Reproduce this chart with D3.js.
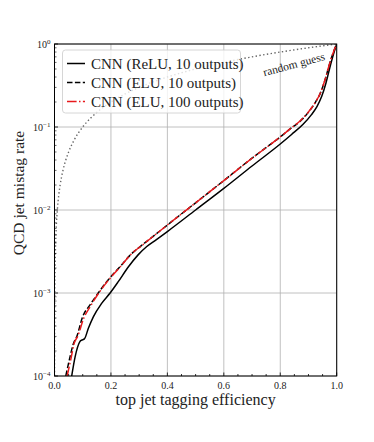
<!DOCTYPE html>
<html lang="en">
<head>
<meta charset="utf-8">
<title>ROC</title>
<style>
    body { margin: 0; background: #fff; }
    text { font-family: "Liberation Serif", "DejaVu Serif", serif; fill: #222; }
</style>
</head>
<body>
<svg id="chart" width="374" height="442"></svg>
<script src="https://d3js.org/d3.v7.min.js"></script>
<script>
// efficiency / mistag rate
const reluEff = [0.061, 0.073, 0.090, 0.096, 0.106, 0.120, 0.138, 0.167, 0.197, 0.226, 0.262, 0.297, 0.327, 0.36, 0.40, 0.50, 0.60, 0.70, 0.80, 0.84, 0.88, 0.91, 0.93, 0.947, 0.962, 0.976, 0.988, 1.0];
const reluMis = [1.0e-4, 1.7e-4, 2.6e-4, 2.7e-4, 2.8e-4, 3.76e-4, 5.2e-4, 7.5e-4, 1.0e-3, 1.37e-3, 2.07e-3, 2.9e-3, 3.63e-3, 4.37e-3, 5.5e-3, 1.0e-2, 1.82e-2, 3.39e-2, 6.24e-2, 8.13e-2, 0.107, 0.140, 0.176, 0.234, 0.339, 0.525, 0.741, 1.0];

const elu10Eff = [0.040, 0.055, 0.066, 0.079, 0.100, 0.126, 0.155, 0.185, 0.232, 0.270, 0.315, 0.36, 0.40, 0.50, 0.60, 0.70, 0.80, 0.84, 0.87, 0.90, 0.925, 0.941, 0.958, 0.973, 0.987, 1.0];
const elu10Mis = [1.0e-4, 1.7e-4, 2.4e-4, 3.0e-4, 5.2e-4, 7.2e-4, 1.0e-3, 1.37e-3, 2.07e-3, 2.9e-3, 3.89e-3, 5.13e-3, 6.6e-3, 1.22e-2, 2.26e-2, 4.22e-2, 7.59e-2, 9.77e-2, 0.117, 0.151, 0.20, 0.251, 0.363, 0.55, 0.776, 1.0];

const elu100Eff = [0.045, 0.058, 0.070, 0.082, 0.104, 0.128, 0.157, 0.187, 0.233, 0.270, 0.316, 0.36, 0.40, 0.50, 0.60, 0.70, 0.80, 0.84, 0.87, 0.90, 0.925, 0.941, 0.958, 0.973, 0.987, 1.0];
const elu100Mis = [1.0e-4, 1.6e-4, 2.5e-4, 3.0e-4, 5.0e-4, 7.0e-4, 1.0e-3, 1.37e-3, 2.07e-3, 2.9e-3, 3.89e-3, 5.13e-3, 6.6e-3, 1.22e-2, 2.26e-2, 4.2e-2, 7.6e-2, 9.8e-2, 0.118, 0.152, 0.20, 0.252, 0.365, 0.55, 0.776, 1.0];

// random guess: mistag = efficiency
const randomEff = [0.0001, 0.0002, 0.0005, 0.001, 0.002, 0.003, 0.005, 0.007, 0.01, 0.015, 0.02, 0.03, 0.04, 0.05, 0.07, 0.1, 0.13, 0.16, 0.2, 0.25, 0.3, 0.4, 0.5, 0.6, 0.7, 0.8, 0.9, 1.0];

const xTicks = [0, 0.2, 0.4, 0.6, 0.8, 1.0];
const yExps = [-4, -3, -2, -1, 0];
const seriesNames = ["CNN (ReLU, 10 outputs)", "CNN (ELU, 10 outputs)", "CNN (ELU, 100 outputs)"];

const pLeft = 54.5, pRight = 336.7, pTop = 44, pBottom = 376;

const svg = d3.select("#chart");
const x = d3.scaleLinear().domain([0, 1]).range([pLeft, pRight]);
const y = d3.scaleLog().domain([1e-4, 1]).range([pBottom, pTop]);

// grid
const grid = svg.append("g").attr("stroke", "#b0b0b0").attr("stroke-width", 0.8);
grid.selectAll(".gx").data(xTicks).enter().append("line")
    .attr("x1", d => x(d)).attr("x2", d => x(d))
    .attr("y1", pTop).attr("y2", pBottom);
grid.selectAll(".gy").data(yExps).enter().append("line")
    .attr("x1", pLeft).attr("x2", pRight)
    .attr("y1", d => y(Math.pow(10, d))).attr("y2", d => y(Math.pow(10, d)));

// curves
const line = d3.line().x(d => x(d[0])).y(d => y(d[1])).curve(d3.curveMonotoneX);
svg.append("clipPath").attr("id", "clip").append("rect")
    .attr("x", pLeft).attr("y", pTop).attr("width", pRight - pLeft).attr("height", pBottom - pTop);
const plot = svg.append("g").attr("clip-path", "url(#clip)");

plot.append("path")
    .datum(randomEff.map(e => [e, e]))
    .attr("d", line).attr("fill", "none")
    .attr("stroke", "#666").attr("stroke-width", 1.4)
    .attr("stroke-dasharray", "1.4,2.4");

const styles = [
    {eff: reluEff, mis: reluMis, color: "#000", dash: null},
    {eff: elu10Eff, mis: elu10Mis, color: "#000", dash: "5.5,2.4"},
    {eff: elu100Eff, mis: elu100Mis, color: "#e8191c", dash: "9.6,2.4,1.5,2.4"}
];
styles.forEach(s => {
    plot.append("path")
        .datum(s.eff.map((e, i) => [e, s.mis[i]]))
        .attr("d", line).attr("fill", "none")
        .attr("stroke", s.color).attr("stroke-width", 1.5)
        .attr("stroke-dasharray", s.dash);
});

// frame
svg.append("rect").attr("x", pLeft).attr("y", pTop)
    .attr("width", pRight - pLeft).attr("height", pBottom - pTop)
    .attr("fill", "none").attr("stroke", "#000").attr("stroke-width", 1);

// x ticks (inward)
const xMinor = d3.range(0, 1.0001, 0.05);
svg.append("g").selectAll("line").data(xMinor).enter().append("line")
    .attr("x1", d => x(d)).attr("x2", d => x(d))
    .attr("y1", pBottom).attr("y2", (d, i) => pBottom - (i % 4 === 0 ? 3.5 : 2))
    .attr("stroke", "#000").attr("stroke-width", 0.8);
svg.append("g").selectAll("text").data(xTicks).enter().append("text")
    .attr("x", d => x(d)).attr("y", pBottom + 13)
    .attr("text-anchor", "middle").attr("font-size", 10)
    .text(d => d.toFixed(1));

// y ticks (inward)
const yMinor = [];
for (let e = -4; e < 0; e++) for (let k = 2; k <= 9; k++) yMinor.push(k * Math.pow(10, e));
svg.append("g").selectAll("line").data(yMinor).enter().append("line")
    .attr("x1", pLeft).attr("x2", pLeft + 2)
    .attr("y1", d => y(d)).attr("y2", d => y(d))
    .attr("stroke", "#000").attr("stroke-width", 0.6);
svg.append("g").selectAll("line").data(yExps).enter().append("line")
    .attr("x1", pLeft).attr("x2", pLeft + 3.5)
    .attr("y1", d => y(Math.pow(10, d))).attr("y2", d => y(Math.pow(10, d)))
    .attr("stroke", "#000").attr("stroke-width", 0.8);
const yl = svg.append("g").selectAll("text").data(yExps).enter().append("text")
    .attr("x", pLeft - 4).attr("y", d => y(Math.pow(10, d)) + 3.5)
    .attr("text-anchor", "end").attr("font-size", 10);
yl.append("tspan").text("10");
yl.append("tspan").attr("dy", -4).attr("font-size", 7)
    .text(d => d === 0 ? "0" : "\u2212" + Math.abs(d));

// axis labels
svg.append("text").attr("x", (pLeft + pRight) / 2).attr("y", 405)
    .attr("text-anchor", "middle").attr("font-size", 16)
    .text("top jet tagging efficiency");
svg.append("text").attr("transform", "translate(24,193) rotate(-90)")
    .attr("text-anchor", "middle").attr("font-size", 15.5)
    .text("QCD jet mistag rate");

// random guess label
svg.append("text").attr("transform", "translate(295,68) rotate(-15)")
    .attr("text-anchor", "middle").attr("font-size", 11.5)
    .text("random guess");

// legend
const lg = svg.append("g");
lg.append("rect").attr("x", 62.5).attr("y", 50).attr("width", 178).attr("height", 63)
    .attr("rx", 3).attr("fill", "#fff").attr("fill-opacity", 0.8)
    .attr("stroke", "#ccc").attr("stroke-width", 0.8);
styles.forEach((s, i) => {
    const yy = 63.5 + i * 19;
    lg.append("line").attr("x1", 67).attr("x2", 85).attr("y1", yy).attr("y2", yy)
        .attr("stroke", s.color).attr("stroke-width", 1.5)
        .attr("stroke-dasharray", s.dash);
    lg.append("text").attr("x", 91).attr("y", yy + 5)
        .attr("font-size", 15).text(seriesNames[i]);
});
</script>
</body>
</html>
